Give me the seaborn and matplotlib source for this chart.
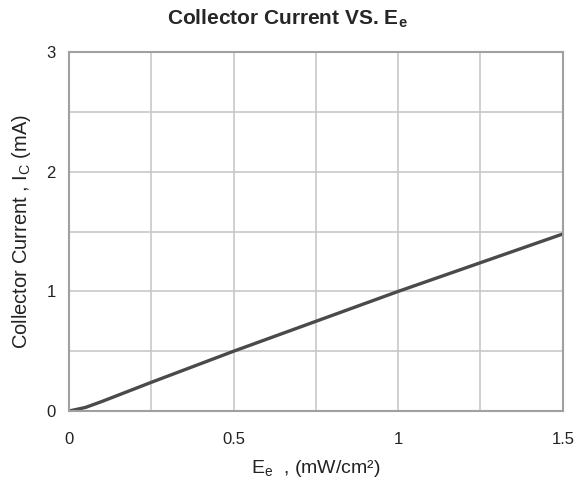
import numpy as np
import pandas as pd
import seaborn as sns
import matplotlib.pyplot as plt
from matplotlib.ticker import MultipleLocator

# data
ee = [0, 0.05, 0.1, 0.25, 0.5, 0.75, 1.0, 1.25, 1.5]
ic = [0, 0.03, 0.08, 0.24, 0.5, 0.75, 1.0, 1.24, 1.48]

df = pd.DataFrame({"Ee": ee, "Ic": ic})

sns.set_style("white")
plt.rcParams['font.family'] = ['Liberation Sans', 'DejaVu Sans']
plt.rcParams['mathtext.fontset'] = 'custom'
plt.rcParams['mathtext.rm'] = 'Liberation Sans'
plt.rcParams['mathtext.bf'] = 'Liberation Sans:bold'

fig = plt.figure(figsize=(5.85, 4.83), dpi=100)
ax = fig.add_axes([0.118, 0.149, 0.844, 0.743])

sns.lineplot(x="Ee", y="Ic", data=df, ax=ax, color="#4a4a4a", linewidth=2.4)

ax.set_xlim(0, 1.5)
ax.set_ylim(0, 3)
ax.xaxis.set_major_locator(MultipleLocator(0.5))
ax.xaxis.set_minor_locator(MultipleLocator(0.25))
ax.yaxis.set_major_locator(MultipleLocator(1))
ax.yaxis.set_minor_locator(MultipleLocator(0.5))
ax.set_xticks([0, 0.5, 1, 1.5], ["0", "0.5", "1", "1.5"])
ax.set_yticks([0, 1, 2, 3], ["0", "1", "2", "3"])
ax.grid(which="both", color="#c8c8c8", linewidth=1.2)
ax.tick_params(axis="both", which="major", direction="out", length=6,
               color="#999999", labelsize=12, colors="#222222")
ax.tick_params(axis="both", which="minor", length=0)
ax.tick_params(axis="x", pad=9)
for s in ax.spines.values():
    s.set_color("#a0a0a0")
    s.set_linewidth(1.5)

ax.set_xlabel("E$_\\mathregular{e}$  , (mW/cm²)", fontsize=14, color="#222222", labelpad=8)
ax.set_ylabel("Collector Current , I$_\\mathregular{C}$ (mA)", fontsize=14.5,
              color="#222222", labelpad=10)
ax.set_title("Collector Current VS. E$_\\mathbf{e}$", fontsize=15,
             fontweight="bold", pad=20, x=0.443)

plt.savefig("out.png", dpi=100)
